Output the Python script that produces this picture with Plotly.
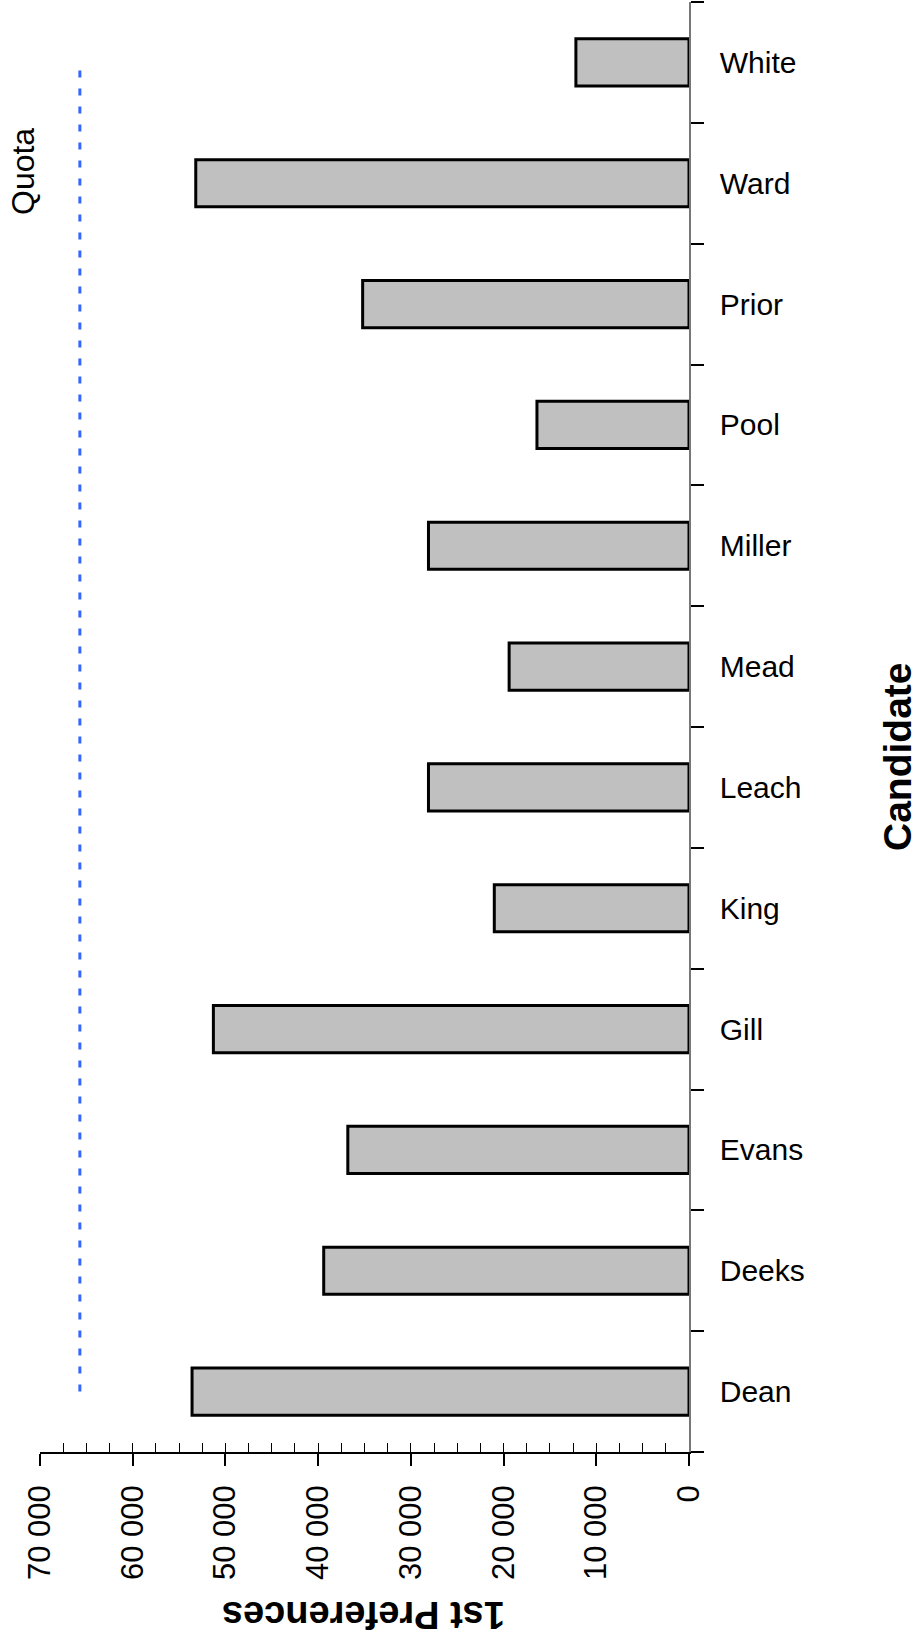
import plotly.graph_objects as go

# ---- data ----
candidates = ["Dean", "Deeks", "Evans", "Gill", "King", "Leach",
              "Mead", "Miller", "Pool", "Prior", "Ward", "White"]
first_prefs = [53600, 39400, 36800, 51300, 21000, 28100,
               19400, 28100, 16400, 35200, 53200, 12200]
QUOTA = 65700
quota_label = "Quota"
x_title = "1st Preferences"
y_title = "Candidate"
x_range = [70000, 0]

NARROW = "Liberation Sans Narrow, Arial Narrow, Liberation Sans, Arial, sans-serif"
BOLD = "Liberation Sans, Arial, sans-serif"

L, R, T, B = 40, 689, 2, 1452
PW, PH = R - L, B - T

fig = go.Figure()

fig.add_trace(go.Bar(
    x=first_prefs, y=candidates, orientation="h", width=0.39,
    marker=dict(color="#c0c0c0", line=dict(color="black", width=3)),
    showlegend=False, hoverinfo="x+y",
))

fig.add_trace(go.Scatter(
    x=[QUOTA, QUOTA], y=[candidates[0], candidates[-1]], mode="lines",
    line=dict(color="#3366ff", width=3, dash="7px,11px"),
    showlegend=False, hoverinfo="skip",
))

# invisible trace for secondary (minor-tick) axis
fig.add_trace(go.Scatter(
    x=[0], y=[candidates[0]], xaxis="x2", mode="markers",
    marker=dict(opacity=0), showlegend=False, hoverinfo="skip",
))

fig.update_layout(
    width=919, height=1648,
    margin=dict(l=L, r=919 - R, t=T, b=1648 - B, autoexpand=False),
    plot_bgcolor="white", paper_bgcolor="white",
    separators=". ",
    xaxis=dict(
        range=x_range, autorange=False, dtick=10000, tick0=0,
        tickformat=",d", tickangle=-90, automargin=False,
        ticks="outside", ticklen=12, tickwidth=1.5, tickcolor="black",
        showline=True, linecolor="black", linewidth=1.5,
        showgrid=False, zeroline=False,
        tickfont=dict(family=NARROW, size=31, color="black"),
        ticklabelstandoff=7,
    ),
    xaxis2=dict(
        overlaying="x", anchor="y", side="bottom", automargin=False,
        range=x_range, autorange=False, dtick=2500, tick0=0,
        ticks="inside", ticklen=9, tickwidth=1.2, tickcolor="black",
        showticklabels=False, showline=False, showgrid=False, zeroline=False,
    ),
    yaxis=dict(
        side="right", type="category", categoryorder="array",
        categoryarray=candidates, range=[-0.5, len(candidates) - 0.5],
        autorange=False, automargin=False,
        ticks="outside", tickson="boundaries", ticklen=13, tickwidth=1.5,
        tickcolor="black",
        showline=True, linecolor="#777777", linewidth=1.5,
        showgrid=False, zeroline=False,
        tickfont=dict(family=NARROW, size=30, color="black"),
        ticklabelstandoff=23,
    ),
    annotations=[
        dict(text=x_title, xref="paper", yref="paper", x=(364 - L) / PW,
             y=-(1615 - B) / PH, showarrow=False, textangle=180,
             font=dict(family=BOLD, size=38, color="black", weight=700),
             xanchor="center", yanchor="middle"),
        dict(text=y_title, xref="paper", yref="paper", x=(897 - L) / PW,
             y=(B - 757) / PH, showarrow=False, textangle=-90,
             font=dict(family=BOLD, size=39, color="black", weight=700),
             xanchor="center", yanchor="middle"),
        dict(text=quota_label, xref="paper", yref="paper", x=(23 - L) / PW,
             y=(B - 172) / PH, showarrow=False, textangle=-90,
             font=dict(family=NARROW, size=32, color="black"),
             xanchor="center", yanchor="middle"),
    ],
)

fig.write_html("out.html",
               config={"displayModeBar": False},
               post_script="document.body.style.margin='0';")
